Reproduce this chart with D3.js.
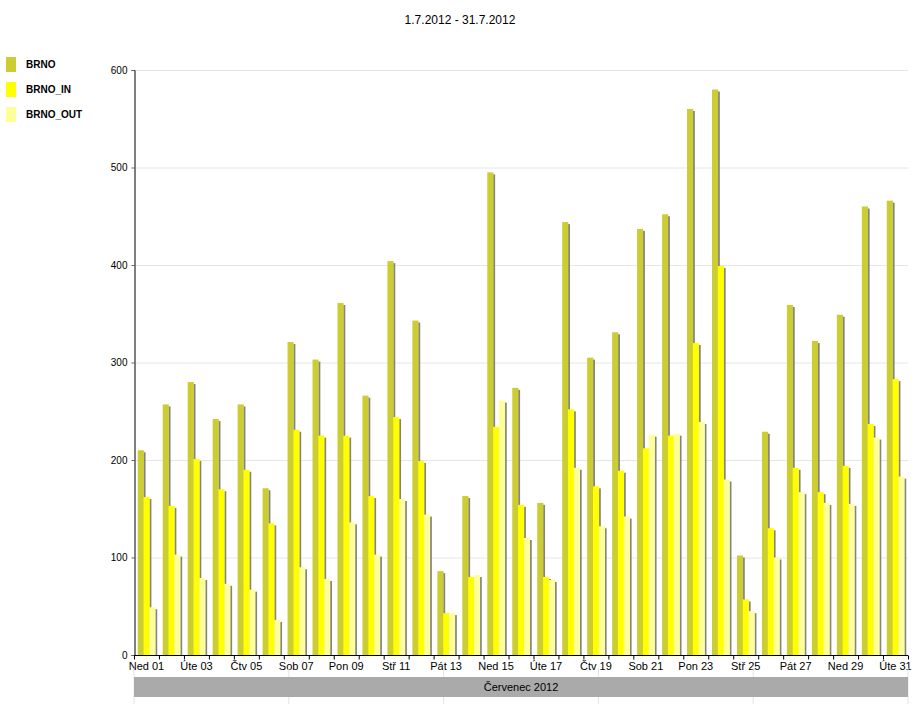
<!DOCTYPE html>
<html>
<head>
<meta charset="utf-8">
<script src="https://cdn.jsdelivr.net/npm/d3@7"></script>
<style>
  html, body { margin: 0; padding: 0; background: #fff; }
  svg { display: block; font-family: "Liberation Sans", Arial, sans-serif; }
</style>
</head>
<body>
<svg id="chart" width="920" height="718"></svg>
<script>
// ---- data ----
const title = "1.7.2012 - 31.7.2012";
const monthLabel = "Červenec 2012";
const seriesNames = ["BRNO", "BRNO_IN", "BRNO_OUT"];
const seriesColors = ["#cccc33", "#ffff00", "#ffff99"];
const dayNames = ["Ned","Pon","Úte","Stř","Čtv","Pát","Sob"];
const days = d3.range(1, 32);
const brno    = [210,257,280,242,257,171,321,303,361,266,404,343,86,163,495,274,156,444,305,331,437,452,560,580,102,229,359,322,349,460,466];
const brnoIn  = [162,153,201,170,190,135,231,225,225,163,244,199,43,80,234,154,80,252,173,189,212,225,320,399,57,130,192,167,194,237,283];
const brnoOut = [49,103,79,73,67,36,90,78,136,103,160,144,43,82,261,120,77,192,132,142,226,227,239,180,45,100,167,156,155,223,183];
const yTicks = [0,100,200,300,400,500,600];
const seriesValues = [brno, brnoIn, brnoOut];

(function () {
// ---- layout ----
const svg = d3.select("#chart");
const pL = 134, pR = 908, pT = 70, pB = 655;

const x = d3.scaleBand().domain(days).range([pL, pR]).paddingInner(0.3).paddingOuter(0.15);
const xs = d3.scaleBand().domain(seriesNames).range([0, x.bandwidth()]);
const xLin = d3.scaleLinear().domain([0, 31]).range([pL, pR]);
const y = d3.scaleLinear().domain([0, 600]).range([pB, pT]);

// title
svg.append("text").attr("x", 460).attr("y", 24).attr("text-anchor", "middle")
  .attr("font-size", 12).attr("fill", "#000").text(title);

// legend
const lg = svg.append("g");
seriesNames.forEach((s, i) => {
  lg.append("rect").attr("x", 6).attr("y", 57 + i * 25).attr("width", 10).attr("height", 15).attr("fill", seriesColors[i]);
  lg.append("text").attr("x", 26).attr("y", 68 + i * 25).attr("font-size", 10).attr("font-weight", "bold").attr("fill", "#000").text(s);
});

// gridlines
svg.append("g").selectAll("line").data(yTicks.filter(t => t > 0)).join("line")
  .attr("x1", pL).attr("x2", pR).attr("y1", d => y(d) + 0.5).attr("y2", d => y(d) + 0.5)
  .attr("stroke", "#e6e6e6").attr("stroke-width", 1);

// bars
seriesNames.forEach((s, si) => {
  const g = svg.append("g");
  const vals = seriesValues[si];
  days.forEach((d, di) => {
    const bx = x(d) + xs(s);
    const bw = xs.bandwidth();
    const by = y(vals[di]);
    g.append("rect").attr("x", bx + bw).attr("y", by + 2).attr("width", 2).attr("height", pB - by - 2)
      .attr("fill", "#6e6e6e").attr("opacity", 0.85);
    g.append("rect").attr("x", bx).attr("y", by).attr("width", bw + 0.3).attr("height", pB - by)
      .attr("fill", seriesColors[si]);
  });
});

// y axis
const yAxis = d3.axisLeft(y).tickValues(yTicks).tickSize(3).tickPadding(4);
const ya = svg.append("g").attr("transform", `translate(${pL + 0.5},0)`).call(yAxis);
ya.select(".domain").attr("stroke", "#000");
ya.selectAll(".tick line").attr("stroke", "#666");
ya.selectAll("text").attr("font-size", 10).attr("font-family", "Liberation Sans, Arial, sans-serif").attr("fill", "#000");

// x axis ticks at day boundaries
const xAxis = d3.axisBottom(xLin).tickValues(d3.range(0, 32)).tickSize(4).tickFormat("");
const xa = svg.append("g").attr("transform", `translate(0,${pB + 0.5})`).call(xAxis);
xa.select(".domain").attr("stroke", "#000").attr("d", `M${pL},0H${pR}`);
xa.selectAll(".tick line").attr("stroke", "#000");

// x labels every second day
const dayLabel = d => {
  const dt = new Date(2012, 6, d);
  return dayNames[dt.getDay()] + " " + String(d).padStart(2, "0");
};
svg.append("g").selectAll("text").data(days.filter(d => d % 2 === 1)).join("text")
  .attr("x", d => x(d) + x.bandwidth() / 2).attr("y", 670).attr("text-anchor", "middle")
  .attr("font-size", 11).attr("fill", "#000").text(dayLabel);

// month band
const sep = d3.scaleLinear().domain([0, 5]).range([pL, pR]);
svg.append("g").selectAll("line").data(d3.range(0, 6)).join("line")
  .attr("x1", d => sep(d)).attr("x2", d => sep(d)).attr("y1", 668).attr("y2", 704)
  .attr("stroke", "#e4e4e4");
svg.append("rect").attr("x", pL).attr("y", 677).attr("width", pR - pL).attr("height", 20).attr("fill", "#aaaaaa");
svg.append("text").attr("x", (pL + pR) / 2).attr("y", 691).attr("text-anchor", "middle")
  .attr("font-size", 11).attr("fill", "#000").text(monthLabel);
})();
</script>
</body>
</html>
